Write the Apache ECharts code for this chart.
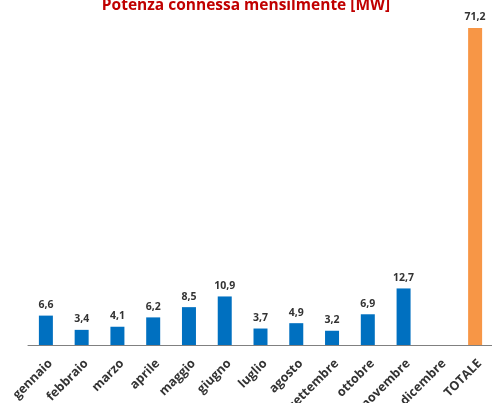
<!DOCTYPE html>
<html><head><meta charset="utf-8">
<script src="https://cdn.jsdelivr.net/npm/echarts@6/dist/echarts.min.js"></script>
<style>html,body{margin:0;padding:0;background:#fff}#c{width:492px;height:403px}</style>
</head><body><div id="c"></div>
<script>
var categories = ['gennaio','febbraio','marzo','aprile','maggio','giugno','luglio','agosto','settembre','ottobre','novembre','dicembre','TOTALE'];
var monthlyValues = [6.6,3.4,4.1,6.2,8.5,10.9,3.7,4.9,3.2,6.9,12.7,null,null];
var totalValues = [null,null,null,null,null,null,null,null,null,null,null,null,71.2];
var chart = echarts.init(document.getElementById('c'));
function fmt(p){ return p.value == null ? '' : String(p.value).replace('.', ','); }
chart.setOption({
  animation:false,
  title:{text:'Potenza connessa mensilmente [MW]', left:'center', top:-7,
    textStyle:{color:'#C00000', fontSize:15.5, fontWeight:'bold', fontFamily:'Open Sans'}},
  grid:{left:28, right:-1, top:11, bottom:58, containLabel:false, outerBoundsMode:'none'},
  xAxis:{type:'category', data:categories,
    axisLine:{lineStyle:{color:'#808080', width:1}}, axisTick:{show:false},
    axisLabel:{interval:0, rotate:45, verticalAlign:'top', color:'#333333', fontSize:12.5, fontWeight:'bold', fontFamily:'Open Sans', margin:12}},
  yAxis:{type:'value', min:0, max:75, show:false, splitLine:{show:false}},
  series:[
    {type:'bar', data:monthlyValues, barWidth:14, barGap:'-100%', itemStyle:{color:'#0070C0'},
     label:{show:true, position:'top', formatter:fmt, color:'#333333', fontSize:10.5, fontWeight:'bold', fontFamily:'Open Sans', distance:5}},
    {type:'bar', data:totalValues, barWidth:14, itemStyle:{color:'#F79646'},
     label:{show:true, position:'top', formatter:fmt, color:'#333333', fontSize:10.5, fontWeight:'bold', fontFamily:'Open Sans', distance:5}}
  ]
});
</script></body></html>
